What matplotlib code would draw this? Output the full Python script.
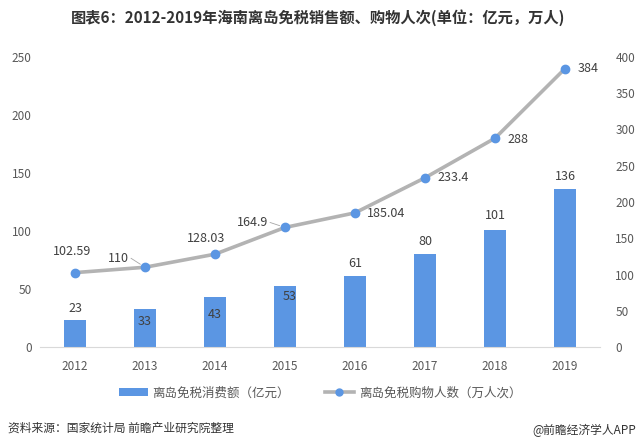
import matplotlib
matplotlib.use("Agg")
import matplotlib.pyplot as plt
from matplotlib.lines import Line2D
from matplotlib.patches import Patch

plt.rcParams['font.family'] = ['Noto Sans CJK SC', 'DejaVu Sans']

years = ['2012', '2013', '2014', '2015', '2016', '2017', '2018', '2019']
sales = [23, 33, 43, 53, 61, 80, 101, 136]
visits = [102.59, 110, 128.03, 164.9, 185.04, 233.4, 288, 384]
visit_labels = ['102.59', '110', '128.03', '164.9', '185.04', '233.4', '288', '384']
left_ticks = [0, 50, 100, 150, 200, 250]
right_ticks = [0, 50, 100, 150, 200, 250, 300, 350, 400]

title = '图表6：2012-2019年海南离岛免税销售额、购物人次(单位：亿元，万人)'
bar_name = '离岛免税消费额（亿元）'
line_name = '离岛免税购物人数（万人次）'
source = '资料来源：国家统计局 前瞻产业研究院整理'
brand = '@前瞻经济学人APP'

BAR_C = '#5B96E3'
LINE_C = '#B3B3B3'
MARK_C = '#5B96E3'
TICK_C = '#595959'
LAB_C = '#404040'

fig = plt.figure(figsize=(6.4, 4.47), dpi=100)
ax = fig.add_axes([40/640, 100/447, 560/640, 290/447])
ax2 = ax.twinx()

x = list(range(len(years)))
ax.bar(x, sales, width=0.31, color=BAR_C, zorder=2)
ax.set_xlim(-0.5, len(years) - 0.5)
ax.set_ylim(0, 250)
ax.set_yticks(left_ticks)
ax.set_xticks(x)
ax.set_xticklabels(years)
ax.tick_params(axis='both', length=0, colors=TICK_C, labelsize=8.5)
ax.tick_params(axis='y', pad=6)
ax.tick_params(axis='x', pad=9)
for s in ['top', 'right', 'left']:
    ax.spines[s].set_visible(False)
ax.spines['bottom'].set_color('#D9D9D9')

ax2.plot(x, visits, color=LINE_C, lw=2.6, marker='o', markersize=6,
         markerfacecolor=MARK_C, markeredgecolor=MARK_C, zorder=3)
ax2.set_ylim(0, 400)
ax2.set_yticks(right_ticks)
ax2.tick_params(axis='y', length=0, colors=TICK_C, labelsize=8.5, pad=11)
for s in ['top', 'right', 'left', 'bottom']:
    ax2.spines[s].set_visible(False)

# bar labels (pixel offsets from bar top)
bar_off = [(0, 12), (0, -13), (0, -17), (5, -11), (0, 13), (0, 13), (0, 14), (0, 13)]
for i, v in enumerate(sales):
    dx, dy = bar_off[i]
    ax.annotate(str(v), (i, v), xytext=(dx, dy), textcoords='offset pixels',
                ha='center', va='center', fontsize=9, color=LAB_C, zorder=4)

# line labels
line_off = [(-3, 21), (-27, 9), (-9, 16), (-32, 5), (31, -1), (28, 0), (23, -1), (23, 0)]
for i, v in enumerate(visits):
    dx, dy = line_off[i]
    ax2.annotate(visit_labels[i], (i, v), xytext=(dx, dy), textcoords='offset pixels',
                 ha='center', va='center', fontsize=9, color=LAB_C, zorder=5)

# leader lines
for i, (x0, y0) in [(1, (-14, 9)), (3, (-15, 5))]:
    ax2.annotate('', (i, visits[i]), xytext=(x0, y0), textcoords='offset pixels',
                 arrowprops=dict(arrowstyle='-', color='#A6A6A6', lw=0.6,
                                 shrinkA=0, shrinkB=4))

handles = [Patch(facecolor=BAR_C, edgecolor='none'),
           Line2D([0], [0], color=LINE_C, lw=2.6, marker='o', markersize=5,
                  markerfacecolor=MARK_C, markeredgecolor=MARK_C)]
fig.legend(handles, [bar_name, line_name], loc='center', ncol=2,
           bbox_to_anchor=(0.5, 1 - 393/447), frameon=False, fontsize=9,
           handlelength=2.3, handleheight=0.6, handletextpad=0.4,
           columnspacing=2.8, labelcolor=TICK_C)

fig.text(318/640, 1 - 18/447, title, ha='center', va='center',
         fontsize=11, fontweight='bold', color='#333333')
fig.text(8/640, 1 - 428/447, source, ha='left', va='center',
         fontsize=8.5, color='#333333')
fig.text(636/640, 1 - 430/447, brand, ha='right', va='center',
         fontsize=8.5, color='#333333')

fig.savefig('out.png', dpi=100)
